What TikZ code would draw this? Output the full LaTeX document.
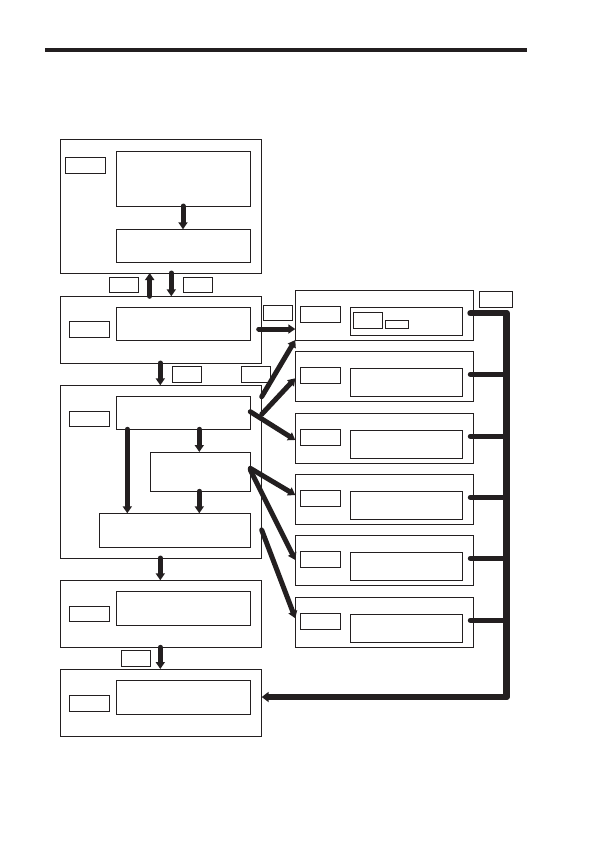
\documentclass[tikz,border=0pt]{standalone}
\usetikzlibrary{arrows.meta}
\definecolor{ink}{HTML}{231F20}
\newcommand\bx[5]{\node[bx, minimum width={(#4)-(#2)}, minimum height={(#5)-(#3)}] (#1) at (#2,#3) {};}
\tikzset{
  bx/.style={draw=ink, line width=0.9pt, inner sep=0pt, outer sep=0pt, anchor=north west},
  arr/.style={draw=ink, line width=5pt, line cap=round, -{Triangle[width=9pt,length=7pt]}},
  busline/.style={draw=ink, line width=7pt},
  stub/.style={draw=ink, line width=5pt, line cap=round},
}
\begin{document}
\begin{tikzpicture}[x=1pt,y=-1pt]
\useasboundingbox (0,0) rectangle (597,841);
% header bar
\fill[ink] (45,48) rectangle (527,52.3);
% left column
\bx{L1}{60.3}{139.3}{261.7}{273}
\bx{L1l}{65.3}{157.3}{105.3}{173.3}
\bx{L1a}{116.3}{151}{250.3}{206}
\bx{L1b}{116.3}{229.3}{250.3}{262}
\bx{t1}{109.3}{277.3}{138.3}{292.3}
\bx{t2}{183.3}{277.3}{212.3}{292.3}
\bx{L2}{60.3}{296.3}{261.7}{363}
\bx{L2l}{69.3}{321.3}{109.3}{337.3}
\bx{L2a}{116.3}{307.3}{250.3}{340.3}
\bx{t3}{263.3}{305}{292.7}{320.3}
\bx{t4}{172.3}{366.3}{201.3}{382.3}
\bx{t5}{241.3}{366.3}{270.3}{382.3}
\bx{L3}{60.3}{385.3}{261.7}{558}
\bx{L3l}{69.3}{411.3}{109.3}{426.3}
\bx{L3a}{116.3}{396}{250.3}{429.3}
\bx{L3b}{150.3}{452}{250.3}{491.3}
\bx{L3c}{99.3}{513.3}{250.3}{547.3}
\bx{L4}{60.3}{580.3}{261.7}{647.3}
\bx{L4l}{69.3}{606}{109.3}{621.3}
\bx{L4a}{116.3}{591.3}{250.3}{625.3}
\bx{t6}{121.3}{650.3}{150.7}{666.3}
\bx{L5}{60.3}{669}{261.7}{736.3}
\bx{L5l}{69.3}{695.3}{109.3}{711.3}
\bx{L5a}{116.3}{680.3}{250.3}{714.3}
% right column
\foreach \t [count=\i] in {290.3,351.3,413.3,474.3,535.3,597.3}{
  \bx{R\i}{295.3}{\t}{473.3}{\t+50}
  \bx{R\i l}{300}{\t+16.5}{340}{\t+32}
  \bx{R\i a}{350.3}{\t+17}{462.3}{\t+45}
  \coordinate (yR\i) at (0,\t+23);
}
\bx{R1s}{353.3}{312.3}{382.3}{328.3}
\bx{R1t}{385.3}{320}{408.3}{328.3}
\bx{t7}{479.3}{291.3}{512.3}{307.3}
% helper coordinates
\coordinate (xa) at (149.7,0);
\coordinate (xb) at (171.3,0);
\coordinate (xc) at (183,0);
\coordinate (xd) at (160.3,0);
\coordinate (xe) at (127.3,0);
\coordinate (xf) at (199.3,0);
\coordinate (xbus) at (506.7,0);
\coordinate (y329) at (0,329);
\coordinate (ybot) at (0,697);
\coordinate (s1) at (0,396.7);
\coordinate (s2) at (0,414.3);
\coordinate (s3) at (0,411.7);
\coordinate (s4) at (0,468.3);
\coordinate (s5) at (0,470);
\coordinate (s6) at (0,530);
\coordinate (e1) at (0,340);
\coordinate (e2) at (0,378.3);
\coordinate (e3) at (0,440);
\coordinate (e4) at (0,495);
\coordinate (e5) at (0,560);
\coordinate (e6) at (0,618.3);
% vertical arrows
\draw[arr] (L2.north -| xa) -- (L1.south -| xa);
\draw[arr] (L1.south -| xb) -- (L2.north -| xb);
\draw[arr] (L1a.south -| xc) -- (L1b.north -| xc);
\draw[arr] (L2.south -| xd) -- (L3.north -| xd);
\draw[arr] (L3a.south -| xe) -- (L3c.north -| xe);
\draw[arr] (L3a.south -| xf) -- (L3b.north -| xf);
\draw[arr] (L3b.south -| xf) -- (L3c.north -| xf);
\draw[arr] (L3.south -| xd) -- (L4.north -| xd);
\draw[arr] (L4.south -| xd) -- (L5.north -| xd);
% to right column
\draw[arr, shorten <=-3pt] (L2.east |- y329) -- (R1.west |- y329);
\draw[arr] (L3.east |- s1) -- (R1.west |- e1);
\draw[arr] (L3.east |- s2) -- (R2.west |- e2);
\draw[arr] (L3a.east |- s3) -- (R3.west |- e3);
\draw[arr] (L3b.east |- s4) -- (R4.west |- e4);
\draw[arr] (L3b.east |- s5) -- (R5.west |- e5);
\draw[arr] (L3.east |- s6) -- (R6.west |- e6);
% bus back to L5
\draw[draw=ink, line width=6pt, line join=round, line cap=round, -{Triangle[width=10pt,length=7pt]}]
  ([xshift=-3pt]R1.east |- yR1) -- (xbus |- yR1) -- (xbus |- ybot) -- (L5.east |- ybot);
\draw[busline] (xbus |- yR1) -- (xbus |- ybot);
\foreach \i in {2,...,6}{
  \draw[stub, shorten <=-3pt] (R\i.east |- yR\i) -- (xbus |- yR\i);
}
\end{tikzpicture}
\end{document}
